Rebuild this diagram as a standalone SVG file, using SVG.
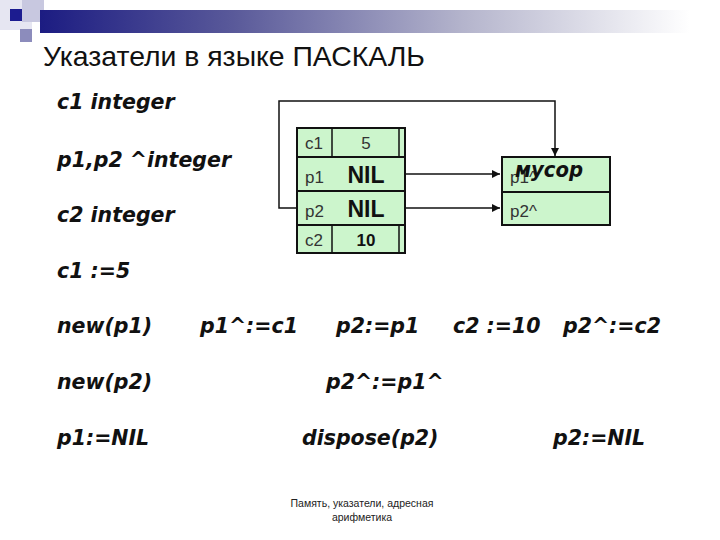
<svg xmlns="http://www.w3.org/2000/svg" width="720" height="540" viewBox="0 0 720 540">
<defs>
<linearGradient id="bar" x1="0" y1="0" x2="1" y2="0">
<stop offset="0" stop-color="#1c1c82"/>
<stop offset="0.3" stop-color="#5a5a9a"/>
<stop offset="0.65" stop-color="#b4b4cc"/>
<stop offset="1" stop-color="#ffffff"/>
</linearGradient>
<marker id="ah" viewBox="0 0 10 10" refX="10" refY="5" markerWidth="8" markerHeight="8" markerUnits="userSpaceOnUse" orient="auto">
<path d="M0,0 L10,5 L0,10 z" fill="#111"/>
</marker>
<style>
.code{font-family:"DejaVu Sans",sans-serif;font-style:italic;font-weight:bold;font-size:20.5px;fill:#111}
.cell{fill:#ccf5cc;stroke:#111;stroke-width:2}
.lbl{font-family:"Liberation Sans",Arial,sans-serif;font-size:17px;fill:#333}
.big{font-family:"Liberation Sans",Arial,sans-serif;font-size:23px;font-weight:bold;fill:#111}
.mid{font-family:"Liberation Sans",Arial,sans-serif;font-size:17px;font-weight:bold;fill:#111}
.conn{fill:none;stroke:#111;stroke-width:1.5}
.foot{font-family:"Liberation Sans",Arial,sans-serif;font-size:10.5px;fill:#222}
</style>
</defs>
<rect width="720" height="540" fill="#ffffff"/>
<g id="decor">
<rect x="0" y="0" width="32" height="30" fill="#e6e6f2"/>
<rect x="22" y="0" width="22" height="22" fill="#c8c8e0"/>
<rect x="10" y="9" width="12" height="12" fill="#1c1c90"/>
<rect x="20" y="29" width="12" height="13" fill="#8c8cbc"/>
<rect x="40" y="10" width="650" height="23" fill="url(#bar)"/>
</g>
<text x="43" y="66" font-family="'Liberation Sans',Arial,sans-serif" font-size="28" fill="#111" textLength="382" lengthAdjust="spacingAndGlyphs">Указатели в языке ПАСКАЛЬ</text>
<g id="code">
<text class="code" x="57" y="109">c1  integer</text>
<text class="code" x="57" y="167">p1,p2  ^integer</text>
<text class="code" x="57" y="222">c2  integer</text>
<text class="code" x="57" y="278">c1  :=5</text>
<text class="code" x="57" y="333">new(p1)</text>
<text class="code" x="200" y="333">p1^:=c1</text>
<text class="code" x="336" y="333">p2:=p1</text>
<text class="code" x="453" y="333">c2 :=10</text>
<text class="code" x="563" y="333">p2^:=c2</text>
<text class="code" x="57" y="389">new(p2)</text>
<text class="code" x="326" y="389">p2^:=p1^</text>
<text class="code" x="57" y="445">p1:=NIL</text>
<text class="code" x="302" y="445">dispose(p2)</text>
<text class="code" x="553" y="445">p2:=NIL</text>
</g>
<g id="connectors">
<path class="conn" d="M405,174 H500" marker-end="url(#ah)"/>
<path class="conn" d="M405,208 H500" marker-end="url(#ah)"/>
<path class="conn" d="M297,208 H279 V101 H555 V156" marker-end="url(#ah)"/>
</g>
<g id="table">
<rect class="cell" x="297" y="128" width="108" height="29"/>
<rect class="cell" x="297" y="157" width="108" height="34"/>
<rect class="cell" x="297" y="191" width="108" height="34"/>
<rect class="cell" x="297" y="225" width="108" height="28"/>
<path d="M332,128 V157 M399,128 V157 M332,225 V253 M399,225 V253" stroke="#111" stroke-width="1.5"/>
<text class="lbl" x="305" y="149">c1</text>
<text class="lbl" x="366" y="149" text-anchor="middle">5</text>
<text class="lbl" x="305" y="183">p1</text>
<text class="big" x="366" y="183" text-anchor="middle">NIL</text>
<text class="lbl" x="305" y="217">p2</text>
<text class="big" x="366" y="217" text-anchor="middle">NIL</text>
<text class="lbl" x="305" y="246">c2</text>
<text class="mid" x="366" y="246" text-anchor="middle">10</text>
</g>
<g id="heap">
<rect class="cell" x="502" y="157" width="108" height="35"/>
<rect class="cell" x="502" y="192" width="108" height="33"/>
<text class="lbl" x="510" y="183">p1^</text>
<text x="515" y="177" font-family="'DejaVu Sans',sans-serif" font-style="italic" font-weight="bold" font-size="21" fill="#111" textLength="68" lengthAdjust="spacingAndGlyphs">мусор</text>
<text class="lbl" x="510" y="217">p2^</text>
</g>
<g id="footer">
<text class="foot" x="362" y="507" text-anchor="middle">Память, указатели, адресная</text>
<text class="foot" x="362" y="521" text-anchor="middle">арифметика</text>
</g>
</svg>
